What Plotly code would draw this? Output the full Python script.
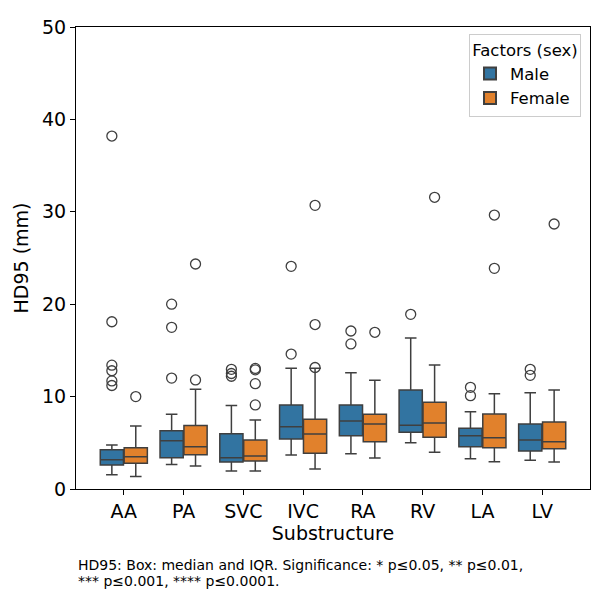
import plotly.graph_objects as go

categories = ["AA", "PA", "SVC", "IVC", "RA", "RV", "LA", "LV"]

# Male stats
male_lower = [1.55, 2.64, 1.95, 3.68, 3.82, 5.01, 3.28, 3.10]
male_q1 = [2.60, 3.39, 2.92, 5.41, 5.77, 6.14, 4.58, 4.11]
male_median = [3.17, 5.23, 3.39, 6.75, 7.36, 6.89, 5.77, 5.30]
male_q3 = [4.25, 6.31, 5.99, 9.09, 9.09, 10.71, 6.57, 7.03]
male_upper = [4.76, 8.08, 9.05, 13.06, 12.59, 16.34, 8.37, 10.43]
male_outliers = [
    [38.2, 18.1, 13.4, 12.8, 11.7, 11.2],
    [20.0, 17.5, 12.0],
    [12.95, 12.5, 12.2],
    [24.1, 14.6],
    [17.1, 15.7],
    [18.9],
    [11.0, 10.1],
    [12.95, 12.3],
]

# Female stats
female_lower = [1.34, 2.49, 1.95, 2.16, 3.35, 3.97, 2.96, 2.92]
female_q1 = [2.78, 3.72, 3.03, 3.86, 5.12, 5.59, 4.47, 4.36]
female_median = [3.50, 4.58, 3.57, 5.95, 7.03, 7.14, 5.56, 5.12]
female_q3 = [4.47, 6.86, 5.30, 7.54, 8.08, 9.38, 8.12, 7.25]
female_upper = [6.82, 10.79, 7.47, 13.06, 11.76, 13.42, 10.32, 10.71]
female_outliers = [
    [10.0],
    [24.35, 11.8],
    [13.05, 12.9, 11.4, 9.1],
    [30.7, 17.8, 13.15],
    [16.96],
    [31.57],
    [29.65, 23.88],
    [28.68],
]

caption_lines = [
    "HD95: Box: median and IQR. Significance: * p≤0.05, ** p≤0.01,",
    "*** p≤0.001, **** p≤0.0001.",
]

series = [
    ("Male", "#3274a1", male_lower, male_q1, male_median, male_q3, male_upper, male_outliers),
    ("Female", "#e1812c", female_lower, female_q1, female_median, female_q3, female_upper, female_outliers),
]

LINE = "#3f3f3f"
FONT = "DejaVu Sans"

fig = go.Figure()
for name, color, lo, q1, med, q3, up, outs in series:
    fig.add_trace(go.Box(
        name=name,
        x=categories,
        y=outs,
        q1=q1, median=med, q3=q3,
        lowerfence=lo, upperfence=up,
        boxpoints="outliers",
        jitter=0, pointpos=0,
        fillcolor=color,
        line=dict(color=LINE, width=1.5),
        whiskerwidth=0.5,
        marker=dict(symbol="circle-open", size=10, color=LINE,
                    line=dict(width=1.3, color=LINE)),
        hoverinfo="skip",
    ))

annotations = []
for i, line in enumerate(caption_lines):
    annotations.append(dict(
        xref="paper", yref="paper", x=0, y=-0.164 - i * 0.0345,
        xanchor="left", yanchor="middle", align="left", showarrow=False,
        text=line,
        font=dict(family=FONT, size=14, color="black"),
    ))

fig.update_layout(
    width=595, height=603,
    margin=dict(l=76, r=5, t=27, b=114),
    paper_bgcolor="white", plot_bgcolor="white",
    boxmode="group", boxgap=0.2, boxgroupgap=0.03,
    font=dict(family=FONT, size=19, color="black"),
    showlegend=True,
    legend=dict(
        x=0.9825, y=0.985, xanchor="right", yanchor="top",
        bgcolor="white", bordercolor="#cccccc", borderwidth=1,
        font=dict(family=FONT, size=16.5, color="black"),
        title=dict(text="Factors (sex)", side="top center",
                   font=dict(family=FONT, size=16.5, color="black")),
        itemsizing="constant",
    ),
    xaxis=dict(
        type="category", categoryorder="array", categoryarray=categories,
        range=[-0.8, 7.8],
        showline=True, mirror=True, linecolor="black", linewidth=1,
        ticks="outside", ticklen=5, tickwidth=1, tickcolor="black",
        showgrid=False, zeroline=False,
        tickfont=dict(size=19),
        title=dict(text="Substructure", font=dict(size=19), standoff=2),
    ),
    yaxis=dict(
        range=[0, 50], tickvals=[0, 10, 20, 30, 40, 50],
        showline=True, mirror=True, linecolor="black", linewidth=1,
        ticks="outside", ticklen=5, tickwidth=1, tickcolor="black",
        showgrid=False, zeroline=False,
        tickfont=dict(size=19),
        title=dict(text="HD95 (mm)", font=dict(size=19), standoff=8),
    ),
    annotations=annotations,
)

fig.write_html("out.html")
